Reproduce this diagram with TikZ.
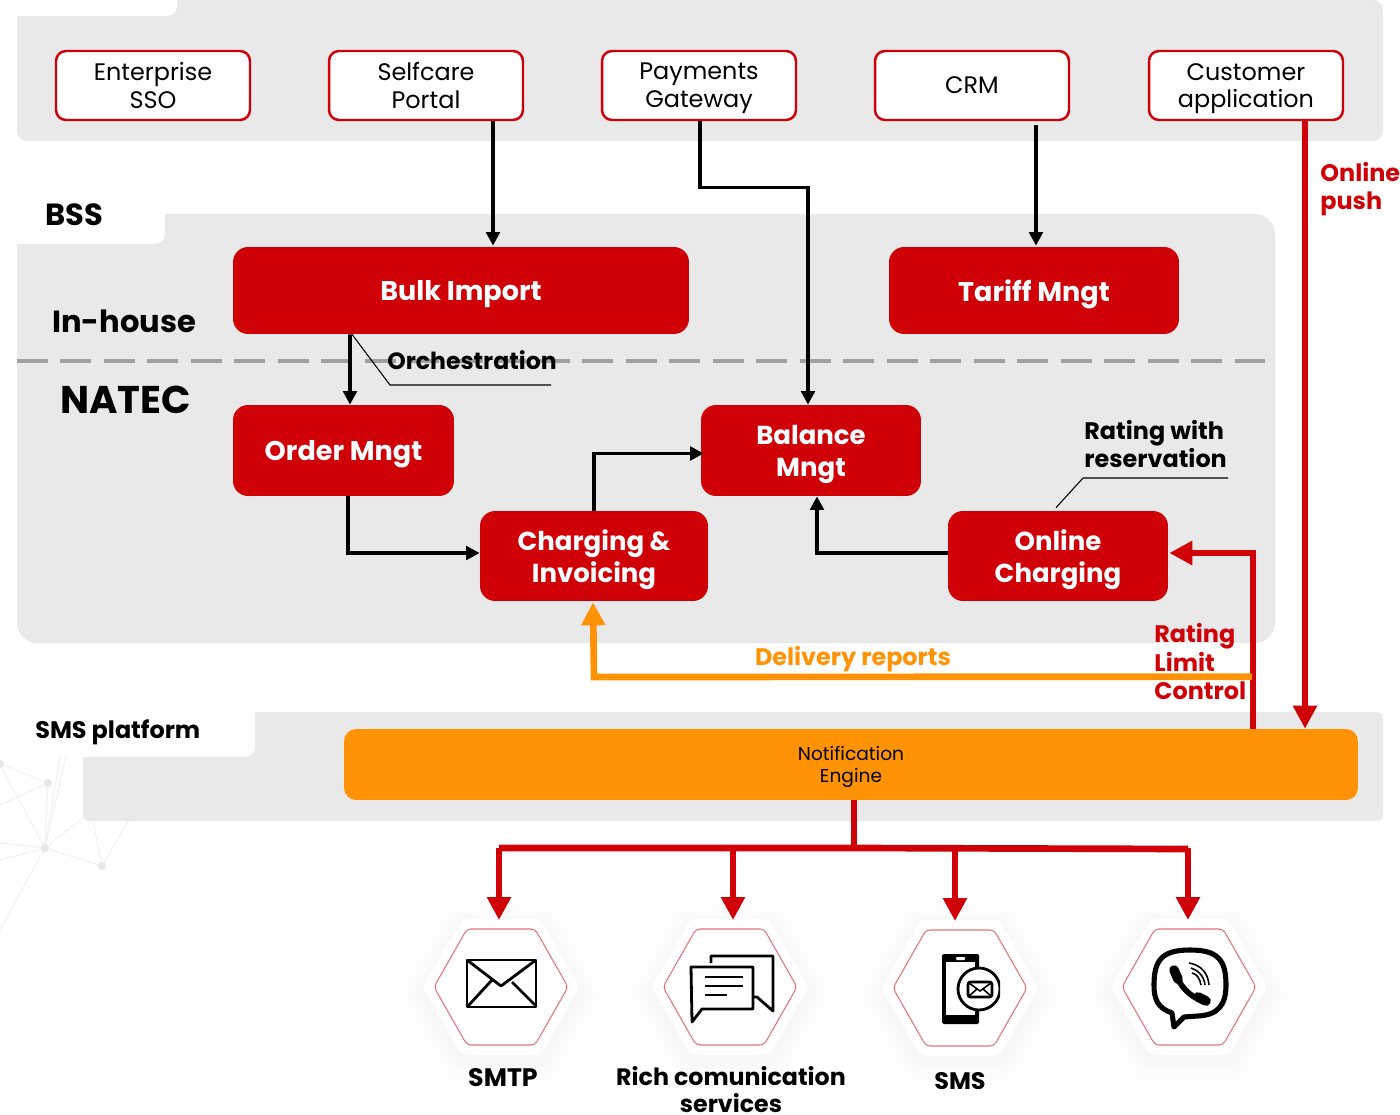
\documentclass[tikz,border=0pt]{standalone}
\usepackage{fontspec}
\setmainfont{Poppins}
\usetikzlibrary{calc,arrows.meta}

\definecolor{panelgray}{HTML}{E9E9E9}
\definecolor{netred}{HTML}{D00007}
\definecolor{netorange}{HTML}{FF9305}
\definecolor{dashgray}{HTML}{A0A0A0}
\definecolor{netfaint}{HTML}{F1F1F1}

\tikzset{
    panel/.style = {fill=panelgray, rounded corners=0.4cm},
    notch/.style = {fill=white, rounded corners=0.2cm},
    extbox/.style = {draw=netred, line width=1.4pt, fill=white, rounded corners=0.2cm, align=center,
        text depth=0pt, minimum width=3.88cm, minimum height=1.38cm, font=\fontsize{13.6}{15.8}\selectfont},
    redbox/.style = {fill=netred, text=white, rounded corners=0.3cm, align=center, text depth=0pt,
        font=\fontsize{14.8}{18.1}\bfseries\selectfont},
    redwide/.style = {redbox, font=\fontsize{15.4}{18.1}\bfseries\selectfont},
    conn/.style = {line width=2pt, -{Triangle[length=0.27cm,width=0.27cm]}},
    redconn/.style = {netred, line width=3.8pt, -{Triangle[length=0.46cm,width=0.46cm]}},
    bigtext/.style = {anchor=west, inner sep=0pt, font=\fontsize{17.4}{20}\bfseries\selectfont},
    smalltext/.style = {anchor=west, align=left, inner sep=0pt, text depth=0pt,
        font=\fontsize{13.6}{16}\bfseries\selectfont},
    callout/.style = {line width=0.6pt},
    icon/.style = {line width=1.6pt, line join=round},
    net/.style = {netfaint, line width=0.6pt},
}

\begin{document}
\begin{tikzpicture}[x=0.02cm,y=-0.02cm]
    \useasboundingbox (0,0) rectangle (1400,1115);

    % draw faint network behind the panels
    \foreach \a/\b in {0/764, 0/805, 45/848} \draw[net] (\a,\b) -- (48,783);
    \foreach \a/\b in {0/765, 60/757, 66/757, 83/818, 102/866, 0/843, 0/860, 0/930}
        \draw[net] (\a,\b) -- (45,848);
    \foreach \a/\b in {93/821, 128/821} \draw[net] (\a,\b) -- (102,866);
    \foreach \a/\b in {48/783, 45/848, 102/866, 0/764} \fill[netfaint!90!gray] (\a,\b) circle (4);

    % draw panels
    \fill[panelgray, rounded corners=0.2cm] (17,141) -- (17,0) -- (1383,0) -- (1383,141) -- cycle;
    \fill[notch] (0,-20) rectangle (177,16);
    \fill[panel] (17,643) -- (17,214) -- (1275,214) -- (1275,643) -- cycle;
    \fill[notch] (-20,190) rectangle (165,244);
    \fill[panelgray, rounded corners=0.12cm] (83,821) -- (83,712) -- (1383,712) -- (1383,821) -- cycle;
    \fill[notch] (20,690) rectangle (255,757);

    % draw separator
    \draw[dashgray, line width=2pt, dash pattern=on 0.62cm off 0.25cm] (17,361) -- (1265,361);

    % draw boxes
    \node[extbox] (sso) at (153,85.5) {Enterprise\\SSO};
    \node[extbox] (portal) at (426,85.5) {Selfcare\\Portal};
    \node[extbox] (gateway) at (699,85.5) {Payments\\Gateway};
    \node[extbox] (crm) at (972,85.5) {CRM};
    \node[extbox] (custapp) at (1246,85.5) {Customer\\application};

    \node[redwide, minimum width=9.12cm, minimum height=1.74cm] (bulk) at (461,290.5) {Bulk Import};
    \node[redwide, minimum width=5.8cm, minimum height=1.74cm] (tariff) at (1034,290.5) {Tariff Mngt};
    \node[redwide, minimum width=4.42cm, minimum height=1.82cm] (order) at (343.5,450.5) {Order Mngt};
    \node[redbox, minimum width=4.4cm, minimum height=1.82cm] (balance) at (811,450.5) {Balance\\Mngt};
    \node[redbox, minimum width=4.56cm, minimum height=1.8cm] (charging) at (594,556) {Charging \&\\Invoicing};
    \node[redbox, minimum width=4.4cm, minimum height=1.8cm] (online) at (1058,556) {Online\\Charging};
    \node[fill=netorange, rounded corners=0.24cm, align=center, text depth=0pt, minimum width=20.28cm,
        minimum height=1.42cm, font=\fontsize{10.6}{12.6}\selectfont] (notif) at (851,764.5) {Notification\\Engine};

    % draw labels
    \node[bigtext] (bss) at (45,215) {BSS};
    \node[bigtext] (inhouse) at (52,321) {In-house};
    \node[bigtext, font=\fontsize{22}{24}\bfseries\selectfont] (natec) at (60,400) {NATEC};
    \node[smalltext] (smsplat) at (35,729) {SMS platform};
    \node[smalltext, font=\fontsize{13.4}{16}\bfseries\selectfont] (orch) at (387,360) {Orchestration};
    \node[smalltext] (ratres) at (1084,444) {Rating with\\reservation};
    \node[smalltext, netred] (pushlbl) at (1320,186) {Online\\push};
    \node[smalltext, netred] (ratlbl) at (1154,661.5) {Rating\\Limit\\Control};
    \node[smalltext, anchor=center, netorange] (delivery) at (853,656) {Delivery reports};

    % draw callouts
    \coordinate (orchbend) at (390,385);
    \coordinate (orchend) at (551,385);
    \draw[callout] ($(bulk.south)+(-109,0)$) -- (orchbend) -- (orchend);
    \coordinate (ratbend) at (1083,478);
    \coordinate (ratend) at (1228,478);
    \draw[callout] ($(online.north)+(-2,-3)$) -- (ratbend) -- (ratend);

    % draw black connectors
    \draw[conn] ($(portal.south)+(67,0)$) -- ($(bulk.north)+(32,-1)$);
    \draw[conn] ($(gateway.south)+(1,0)$) -- ++(0,66.5) -| ($(balance.north)+(-3,0)$);
    \draw[conn] ($(crm.south)+(64,4)$) -- ($(tariff.north)+(2,-1)$);
    \draw[conn] ($(bulk.south)+(-111,0)$) -- ($(order.north)+(6.5,0)$);
    \draw[conn] ($(order.south)+(4.5,0)$) |- ($(charging.west)+(0,-3)$);
    \draw[conn] (charging.north) |- ($(balance.west)+(3,3)$);
    \draw[conn] ($(online.west)+(0,-3)$) -| ($(balance.south)+(6,0)$);

    % draw thick connectors
    \draw[redconn] ($(custapp.south)+(59,0)$) -- ($(notif.north)+(454,0)$);
    \draw[redconn] ($(notif.north)+(402,0)$) |- ($(online.east)+(1,-3)$);
    \draw[redconn, netorange] ($(notif.north)+(401,-52)$) -- (594,677) -- ($(charging.south)+(-1,1)$);

    \coordinate (branch) at (854,848);
    \draw[netred, line width=3.8pt] (notif.south -| branch) -- (branch);
    \draw[netred, line width=3.8pt] (499,848) -- (branch) -- (1188,849);

    % draw hexagons
    \foreach \hname/\hx/\hy in {smtp/501/987, rich/730/987, sms/960/988, viber/1189/987} {
        \coordinate (\hname) at (\hx,\hy);
        \foreach \s in {1.55,1.5,...,1.15}
            \fill[black, opacity=0.004, shift={(\hx,\hy+6)}, scale=\s]
                (-67,0) -- (-34,-58) -- (34,-58) -- (67,0) -- (34,58) -- (-34,58) -- cycle;
        \fill[white, shift={(\hx,\hy)}, scale=1.17, rounded corners=0.1cm]
            (-67,0) -- (-34,-58) -- (34,-58) -- (67,0) -- (34,58) -- (-34,58) -- cycle;
        \draw[netred!55, line width=0.6pt, shift={(\hx,\hy)}, rounded corners=0.08cm]
            (-67,0) -- (-34,-58) -- (34,-58) -- (67,0) -- (34,58) -- (-34,58) -- cycle;
    }
    \foreach \hname/\hoff in {smtp/-2, rich/3, sms/-5, viber/-1}
        \draw[redconn] ($(branch -| \hname)+(\hoff,0)$) -- ($(\hname)+(\hoff,-67)$);

    % draw icons
    \draw[icon] (467,960) rectangle (536,1007);
    \draw[icon] (467,960) -- (501,986) -- (536,960);
    \draw[icon] (468,1006) -- (492,980) (512,982) -- (535,1005);

    \draw[icon] (711,963) -- (711,956) -- (773,956) -- (773,1011) -- (757,997) -- (754,997);
    \draw[icon] (691,967) -- (753,967) -- (753,1009) -- (702,1009) -- (692,1022) -- cycle;
    \draw[icon] (705,977) -- (743,977) (705,986) -- (743,986) (705,995) -- (727,995);

    \fill[rounded corners=0.03cm] (942,954) rectangle (979,1024);
    \fill[white] (946,962) rectangle (975,1015);
    \fill[white, rounded corners=0.02cm] (956,957) rectangle (965,960);
    \begin{scope}
        \clip (950,960) rectangle (1000,1015);
        \draw[icon, fill=white] (979,989) circle (21);
    \end{scope}
    \draw[icon, rounded corners=0.05cm] (968,982) rectangle (992,997);
    \draw[line width=0.9pt] (969,983) -- (980,991) -- (991,983) (969,996) -- (977,989) (991,996) -- (983,989);

    \draw[line width=2.9pt, line join=round] (1190,950) .. controls (1218,950) and (1226,960) .. (1226,985)
        .. controls (1226,1005) and (1218,1015) .. (1198,1016) -- (1184,1017) -- (1174,1027) -- (1172,1013)
        .. controls (1158,1008) and (1154,1000) .. (1154,985)
        .. controls (1154,960) and (1162,950) .. (1190,950) -- cycle;
    \draw[line width=3.2pt, line cap=round] (1176,972) .. controls (1178,985) and (1190,997) .. (1203,1001);
    \draw[line width=5.5pt, line cap=round] (1174,970) -- (1178,979) (1198,997) -- (1206,1001);
    \draw[line width=0.9pt] (1189,963) .. controls (1201,965) and (1208,973) .. (1209,985);
    \draw[line width=0.9pt] (1191,968) .. controls (1198,970) and (1204,976) .. (1205,985);
    \draw[line width=0.9pt] (1192,973) .. controls (1197,974) and (1200,979) .. (1201,985);

    % draw captions
    \node[smalltext, anchor=center, font=\fontsize{14.4}{16}\bfseries\selectfont] (smtplbl) at (503,1077) {SMTP};
    \node[smalltext, anchor=center, align=center, font=\fontsize{13.5}{15.6}\bfseries\selectfont] (richlbl) at (731,1089.5) {Rich comunication\\services};
    \node[smalltext, anchor=center] (smslbl) at (960,1081) {SMS};
\end{tikzpicture}
\end{document}
